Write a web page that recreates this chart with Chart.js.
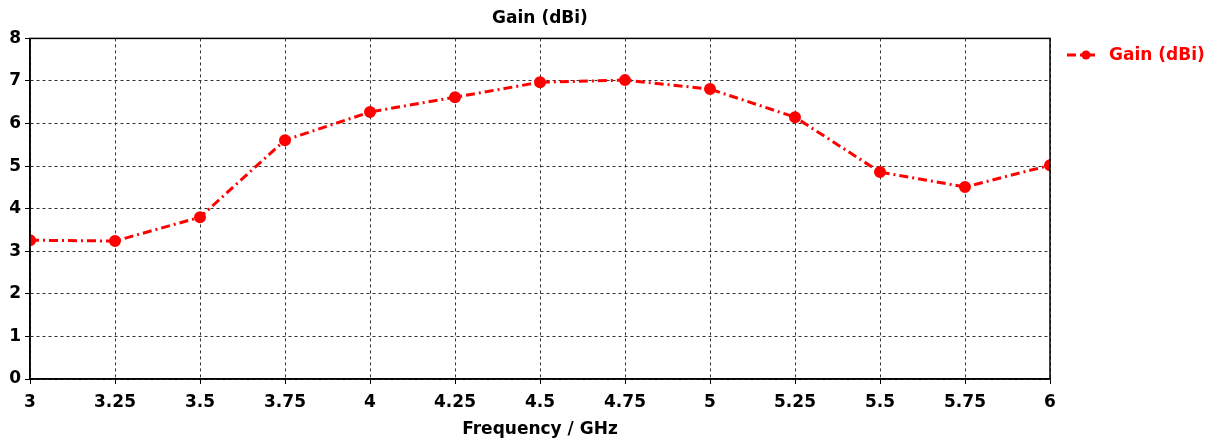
<!DOCTYPE html>
<html>
<head>
<meta charset="utf-8">
<script src="https://cdn.jsdelivr.net/npm/chart.js@4/dist/chart.umd.min.js"></script>
<style>
  html, body { margin: 0; padding: 0; background: #fff; }
  #wrap { width: 1209px; height: 440px; }
</style>
</head>
<body>
<div id="wrap"><canvas id="gainChart" width="1209" height="440"></canvas></div>
<script>
const freqs = [3, 3.25, 3.5, 3.75, 4, 4.25, 4.5, 4.75, 5, 5.25, 5.5, 5.75, 6];
const gain = [3.26, 3.24, 3.80, 5.61, 6.27, 6.62, 6.97, 7.02, 6.81, 6.15, 4.86, 4.51, 5.02];
const seriesLabel = 'Gain (dBi)';
const chartTitle = 'Gain (dBi)';
const xTitle = 'Frequency / GHz';

const FONT = '"DejaVu Sans", Verdana, sans-serif';
const RED = '#ff0000';
const DASH = [9, 4, 2, 4];

// frame around plot + legend on the right
const framePlugin = {
  id: 'frame',
  afterDraw(chart) {
    const { ctx, chartArea: a } = chart;
    ctx.save();
    ctx.strokeStyle = '#000';
    ctx.lineWidth = 1.5;
    ctx.setLineDash([]);
    ctx.strokeRect(a.left, a.top, a.right - a.left, a.bottom - a.top);

    const ds = chart.data.datasets[0];
    const y = 55;
    ctx.strokeStyle = ds.borderColor;
    ctx.lineWidth = 3;
    ctx.setLineDash(DASH);
    ctx.beginPath();
    ctx.moveTo(1067, y);
    ctx.lineTo(1099, y);
    ctx.stroke();
    ctx.setLineDash([]);
    ctx.fillStyle = ds.borderColor;
    ctx.beginPath();
    ctx.arc(1086, y, 4.5, 0, Math.PI * 2);
    ctx.fill();
    ctx.font = 'bold 17px ' + FONT;
    ctx.textBaseline = 'middle';
    ctx.textAlign = 'left';
    ctx.fillText(ds.label, 1109, y + 1);
    ctx.restore();
  }
};

new Chart(document.getElementById('gainChart'), {
  type: 'line',
  data: {
    datasets: [{
      label: seriesLabel,
      data: freqs.map((f, i) => ({ x: f, y: gain[i] })),
      borderColor: RED,
      backgroundColor: RED,
      borderWidth: 3,
      borderDash: DASH,
      pointRadius: 4.5,
      pointHoverRadius: 4.5,
      pointBackgroundColor: RED,
      pointBorderColor: RED,
      tension: 0
    }]
  },
  options: {
    responsive: false,
    animation: false,
    layout: { padding: { left: 0, right: 159, top: 0, bottom: 0 } },
    plugins: {
      legend: { display: false },
      tooltip: { enabled: false },
      title: {
        display: true,
        text: chartTitle,
        fullSize: false,
        color: '#000',
        font: { family: FONT, size: 17, weight: 'bold' },
        padding: { top: 8, bottom: 10 }
      }
    },
    scales: {
      x: {
        type: 'linear',
        min: 3,
        max: 6,
        ticks: {
          stepSize: 0.25,
          color: '#000',
          padding: 8,
          maxRotation: 0,
          font: { family: FONT, size: 17, weight: 'bold' },
          callback: v => String(v)
        },
        grid: { color: '#333', lineWidth: 1, tickLength: 5, tickColor: '#000', tickBorderDash: [] },
        border: { display: true, color: '#000', width: 1.5, dash: [3, 3] },
        title: {
          display: true,
          text: xTitle,
          color: '#000',
          font: { family: FONT, size: 17, weight: 'bold' },
          padding: { top: 3, bottom: 0 }
        },
        afterFit: s => { s.height = 61; }
      },
      y: {
        min: 0,
        max: 8,
        ticks: {
          stepSize: 1,
          color: '#000',
          padding: 4,
          font: { family: FONT, size: 17, weight: 'bold' }
        },
        grid: { color: '#333', lineWidth: 1, tickLength: 5, tickColor: '#000', tickBorderDash: [] },
        border: { display: true, color: '#000', width: 1.5, dash: [3, 3] },
        afterFit: s => { s.width = 30; }
      }
    }
  },
  plugins: [framePlugin]
});
</script>
</body>
</html>
